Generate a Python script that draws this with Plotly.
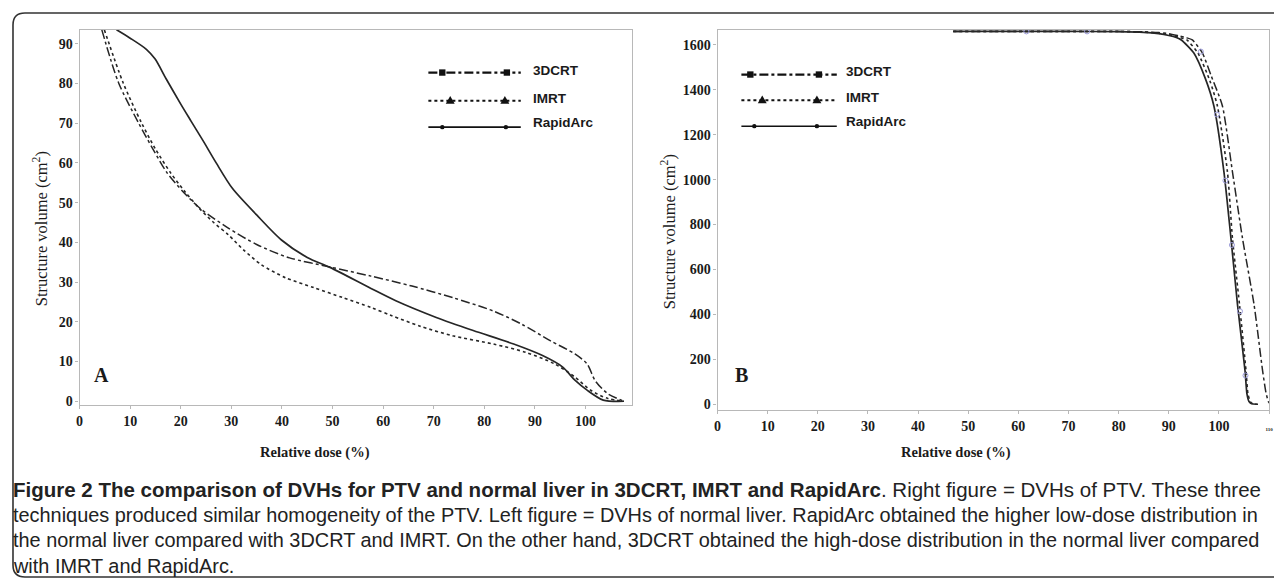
import plotly.graph_objects as go

# The page body has an 8px margin, so the figure is drawn 8px smaller and all
# layout positions below are given in reference-page pixels, shifted by 8.
PAGE_W, PAGE_H = 1282, 586
OFF = 8
W, H = PAGE_W - OFF, PAGE_H - OFF

# ---------------- Data: left panel (normal liver) ----------------
liver_3dcrt_x = [4.4, 7.7, 11.6, 14.5, 17.3, 20.5, 23.8, 29.4, 35.1, 41.5, 49.5, 57.6, 65.7, 73.7, 81.8, 87.4, 93.1, 97.9, 100.3, 101.9, 104.4, 107.6]
liver_3dcrt_y = [93.5, 80.2, 70.2, 63.5, 57.5, 52.7, 48.6, 43.6, 39.4, 36.1, 33.8, 31.5, 29.0, 26.1, 22.7, 19.4, 15.2, 11.9, 9.4, 5.2, 1.9, 0.0]

liver_imrt_x = [4.9, 8.6, 12.2, 15.0, 18.0, 20.8, 23.5, 26.5, 29.4, 32.5, 35.9, 40.7, 46.3, 52.0, 57.6, 61.6, 67.3, 73.7, 81.8, 88.2, 93.9, 97.9, 101.1, 104.4, 107.6]
liver_imrt_y = [93.5, 80.2, 70.2, 63.5, 57.5, 52.8, 48.8, 45.0, 41.9, 38.0, 34.4, 31.1, 28.6, 26.1, 23.6, 21.6, 18.9, 16.5, 14.4, 12.3, 9.4, 6.1, 2.7, 0.7, 0.0]

liver_rapidarc_x = [7.3, 10.0, 13.2, 14.9, 17.1, 20.0, 22.0, 24.4, 27.0, 30.2, 35.0, 39.9, 45.0, 49.5, 57.6, 62.5, 70.5, 77.8, 85.8, 91.5, 95.5, 97.9, 100.3, 103.5, 107.6]
liver_rapidarc_y = [93.5, 91.4, 88.6, 86.2, 81.2, 74.8, 70.6, 65.6, 60.0, 53.6, 46.9, 40.6, 36.2, 33.7, 28.4, 25.3, 21.1, 17.8, 14.4, 11.5, 8.6, 5.3, 2.8, 0.3, 0.0]

# ---------------- Data: right panel (PTV) ----------------
ptv_3dcrt_x = [47, 60, 70, 80, 85, 88, 90, 92, 93.5, 94.7, 96.7, 98.5, 100.7, 102.7, 104.7, 107.0, 108.7, 109.4, 109.9, 110.3]
ptv_3dcrt_y = [1660, 1660, 1660, 1660, 1658, 1655, 1650, 1640, 1632, 1622, 1564, 1460, 1328, 1035, 739, 445, 151, 50, 10, 0]

ptv_imrt_x = [47, 60, 70, 80, 85, 88, 90, 92, 93.6, 95.8, 98.2, 99.7, 101.7, 102.7, 104.1, 105.4, 105.8, 106.3, 106.8, 107.8]
ptv_imrt_y = [1660, 1660, 1660, 1660, 1657, 1652, 1645, 1634, 1622, 1564, 1440, 1328, 1035, 739, 445, 151, 45, 10, 2, 0]

ptv_rapidarc_x = [47, 60, 70, 80, 85, 88, 90, 91.5, 92.5, 95.0, 97.3, 99.0, 101.0, 102.4, 103.7, 105.2, 105.6, 106.0, 106.5, 107.5]
ptv_rapidarc_y = [1660, 1660, 1660, 1659, 1656, 1650, 1642, 1633, 1622, 1564, 1450, 1328, 1035, 739, 445, 151, 45, 12, 2, 0]

# faint sample markers visible along the PTV curves
ptv_marker_x = [61.6, 73.7, 96.4, 99.6, 101.3, 102.6, 104.2, 105.3]
ptv_marker_y = [1660, 1660, 1570, 1290, 996, 709, 414, 128]

series_names = ["3DCRT", "IMRT", "RapidArc"]
x_ticks = [0, 10, 20, 30, 40, 50, 60, 70, 80, 90, 100]
liver_y_ticks = [0, 10, 20, 30, 40, 50, 60, 70, 80, 90]
ptv_y_ticks = [0, 200, 400, 600, 800, 1000, 1200, 1400, 1600]

caption_lines = [
    "<b>Figure 2 The comparison of DVHs for PTV and normal liver in 3DCRT, IMRT and RapidArc</b>. Right figure = DVHs of PTV. These three",
    "techniques produced similar homogeneity of the PTV. Left figure = DVHs of normal liver. RapidArc obtained the higher low-dose distribution in",
    "the normal liver compared with 3DCRT and IMRT. On the other hand, 3DCRT obtained the high-dose distribution in the normal liver compared",
    "with IMRT and RapidArc.",
]
caption_sizes = [20.5, 19.9, 19.9, 19.9]

# ---------------- helpers ----------------
def fx(p):
    return (p - OFF) / W

def fy(p):
    return 1 - (p - OFF) / H

INK = "#262626"
AX = "#b8b8b8"
SERIF = "Liberation Serif, Times New Roman, serif"
SANS = "Liberation Sans, Arial, sans-serif"

styles = {
    "3DCRT": dict(dash="dashdot", width=1.5),
    "IMRT": dict(dash="dot", width=1.6),
    "RapidArc": dict(dash="solid", width=1.7),
}

fig = go.Figure()

left = [(liver_3dcrt_x, liver_3dcrt_y), (liver_imrt_x, liver_imrt_y), (liver_rapidarc_x, liver_rapidarc_y)]
right = [(ptv_3dcrt_x, ptv_3dcrt_y), (ptv_imrt_x, ptv_imrt_y), (ptv_rapidarc_x, ptv_rapidarc_y)]

for name, (xs, ys) in zip(series_names, left):
    fig.add_trace(go.Scatter(x=xs, y=ys, mode="lines", name=name, showlegend=False,
                             line=dict(color=INK, shape="spline", smoothing=0.8, **styles[name]),
                             xaxis="x", yaxis="y"))
for name, (xs, ys) in zip(series_names, right):
    fig.add_trace(go.Scatter(x=xs, y=ys, mode="lines", name=name, showlegend=False,
                             line=dict(color=INK, shape="spline", smoothing=0.6, **styles[name]),
                             xaxis="x2", yaxis="y2"))
fig.add_trace(go.Scatter(x=ptv_marker_x, y=ptv_marker_y, mode="markers", showlegend=False,
                         marker=dict(symbol="circle-open", size=5, color="#9a9ad8", line=dict(width=1)),
                         xaxis="x2", yaxis="y2"))

axis_common = dict(showline=True, linecolor=AX, linewidth=1.2, mirror=True, showgrid=False,
                   zeroline=False, ticks="outside", ticklen=3, tickcolor=AX,
                   tickfont=dict(family=SERIF, size=14, color="#1a1a1a", weight="bold"))

fig.update_layout(
    width=W, height=H,
    margin=dict(l=0, r=0, t=0, b=0),
    paper_bgcolor="white", plot_bgcolor="white",
    xaxis=dict(domain=[fx(76), fx(632)], range=[0, 109.2], tickvals=x_ticks, anchor="y", **axis_common),
    yaxis=dict(domain=[fy(408), fy(30)], range=[-1, 93.5], tickvals=liver_y_ticks, anchor="x", **axis_common),
    xaxis2=dict(domain=[fx(718), fx(1273)], range=[0, 110],
                tickvals=x_ticks + [110],
                ticktext=[str(v) for v in x_ticks] + ["<span style='font-size:5px'>110</span>"],
                anchor="y2", **axis_common),
    yaxis2=dict(domain=[fy(413), fy(30)], range=[-26.5, 1667], tickvals=ptv_y_ticks, anchor="x2", **axis_common),
)

shapes = []
# rounded frame
r = 12
x0, y0, y1 = 9, 13, 581
path = (f"M {fx(1300)},{fy(y0)} L {fx(x0 + r)},{fy(y0)} Q {fx(x0)},{fy(y0)} {fx(x0)},{fy(y0 + r)} "
        f"L {fx(x0)},{fy(y1 - r)} Q {fx(x0)},{fy(y1)} {fx(x0 + r)},{fy(y1)} L {fx(1300)},{fy(y1)}")
shapes.append(dict(type="path", xref="paper", yref="paper", path=path,
                   line=dict(color="#333333", width=1.6)))

def legend_block(xl, xr, ys, mk3, mk_tri, mk_dot):
    out = []
    dashes = ["dashdot", "dot", "solid"]
    widths = [2.2, 2.0, 1.6]
    for yy, d, w in zip(ys, dashes, widths):
        out.append(dict(type="line", xref="paper", yref="paper", x0=fx(xl), x1=fx(xr), y0=fy(yy), y1=fy(yy),
                        line=dict(color="#111111", width=w, dash=d)))
    for cx in mk3:
        s = 3.2
        out.append(dict(type="rect", xref="paper", yref="paper", x0=fx(cx - s), x1=fx(cx + s),
                        y0=fy(ys[0] + s), y1=fy(ys[0] - s), fillcolor="#111111", line=dict(width=0)))
    for cx in mk_tri:
        s = 4.5
        yy = ys[1]
        p = f"M {fx(cx - s)},{fy(yy + 3)} L {fx(cx + s)},{fy(yy + 3)} L {fx(cx)},{fy(yy - 5)} Z"
        out.append(dict(type="path", xref="paper", yref="paper", path=p, fillcolor="#111111", line=dict(width=0)))
    for cx in mk_dot:
        s = 2.2
        out.append(dict(type="circle", xref="paper", yref="paper", x0=fx(cx - s), x1=fx(cx + s),
                        y0=fy(ys[2] + s), y1=fy(ys[2] - s), fillcolor="#111111", line=dict(width=0)))
    return out

shapes += legend_block(427, 520, [73, 101.5, 128], [441, 506], [449, 504], [441, 505])
shapes += legend_block(742, 838, [75, 101, 127], [751, 820], [763, 818], [755, 818])
fig.update_layout(shapes=shapes)

ann = []
def text(x, y, t, size, family, bold=False, xanchor="left", angle=0, color="#1a1a1a"):
    ann.append(dict(x=fx(x), y=fy(y), xref="paper", yref="paper", text=t, showarrow=False,
                    xanchor=xanchor, yanchor="middle", textangle=angle,
                    font=dict(size=size, family=family, color=color, weight="bold" if bold else "normal")))

for lx, ys in [(530, [71, 99, 123]), (845, [72, 98, 122])]:
    for name, yy in zip(series_names, ys):
        text(lx, yy, name, 13.5, SANS, bold=True)

text(98, 378, "A", 20, SERIF, bold=True, xanchor="center")
text(742, 378, "B", 20, SERIF, bold=True, xanchor="center")

text(37, 230, "Structure volume (cm<sup>2</sup>)", 16.5, SERIF, xanchor="center", angle=-90)
text(669, 233, "Structure volume (cm<sup>2</sup>)", 16.5, SERIF, xanchor="center", angle=-90)
text(313, 456, "Relative dose (%)", 14.5, SERIF, bold=True, xanchor="center")
text(958, 456, "Relative dose (%)", 14.5, SERIF, bold=True, xanchor="center")

for i, (line, sz) in enumerate(zip(caption_lines, caption_sizes)):
    text(7, 493 + 25.5 * i, line, sz, SANS, color="#222222")

fig.update_layout(annotations=ann)

fig.write_html("out.html")
